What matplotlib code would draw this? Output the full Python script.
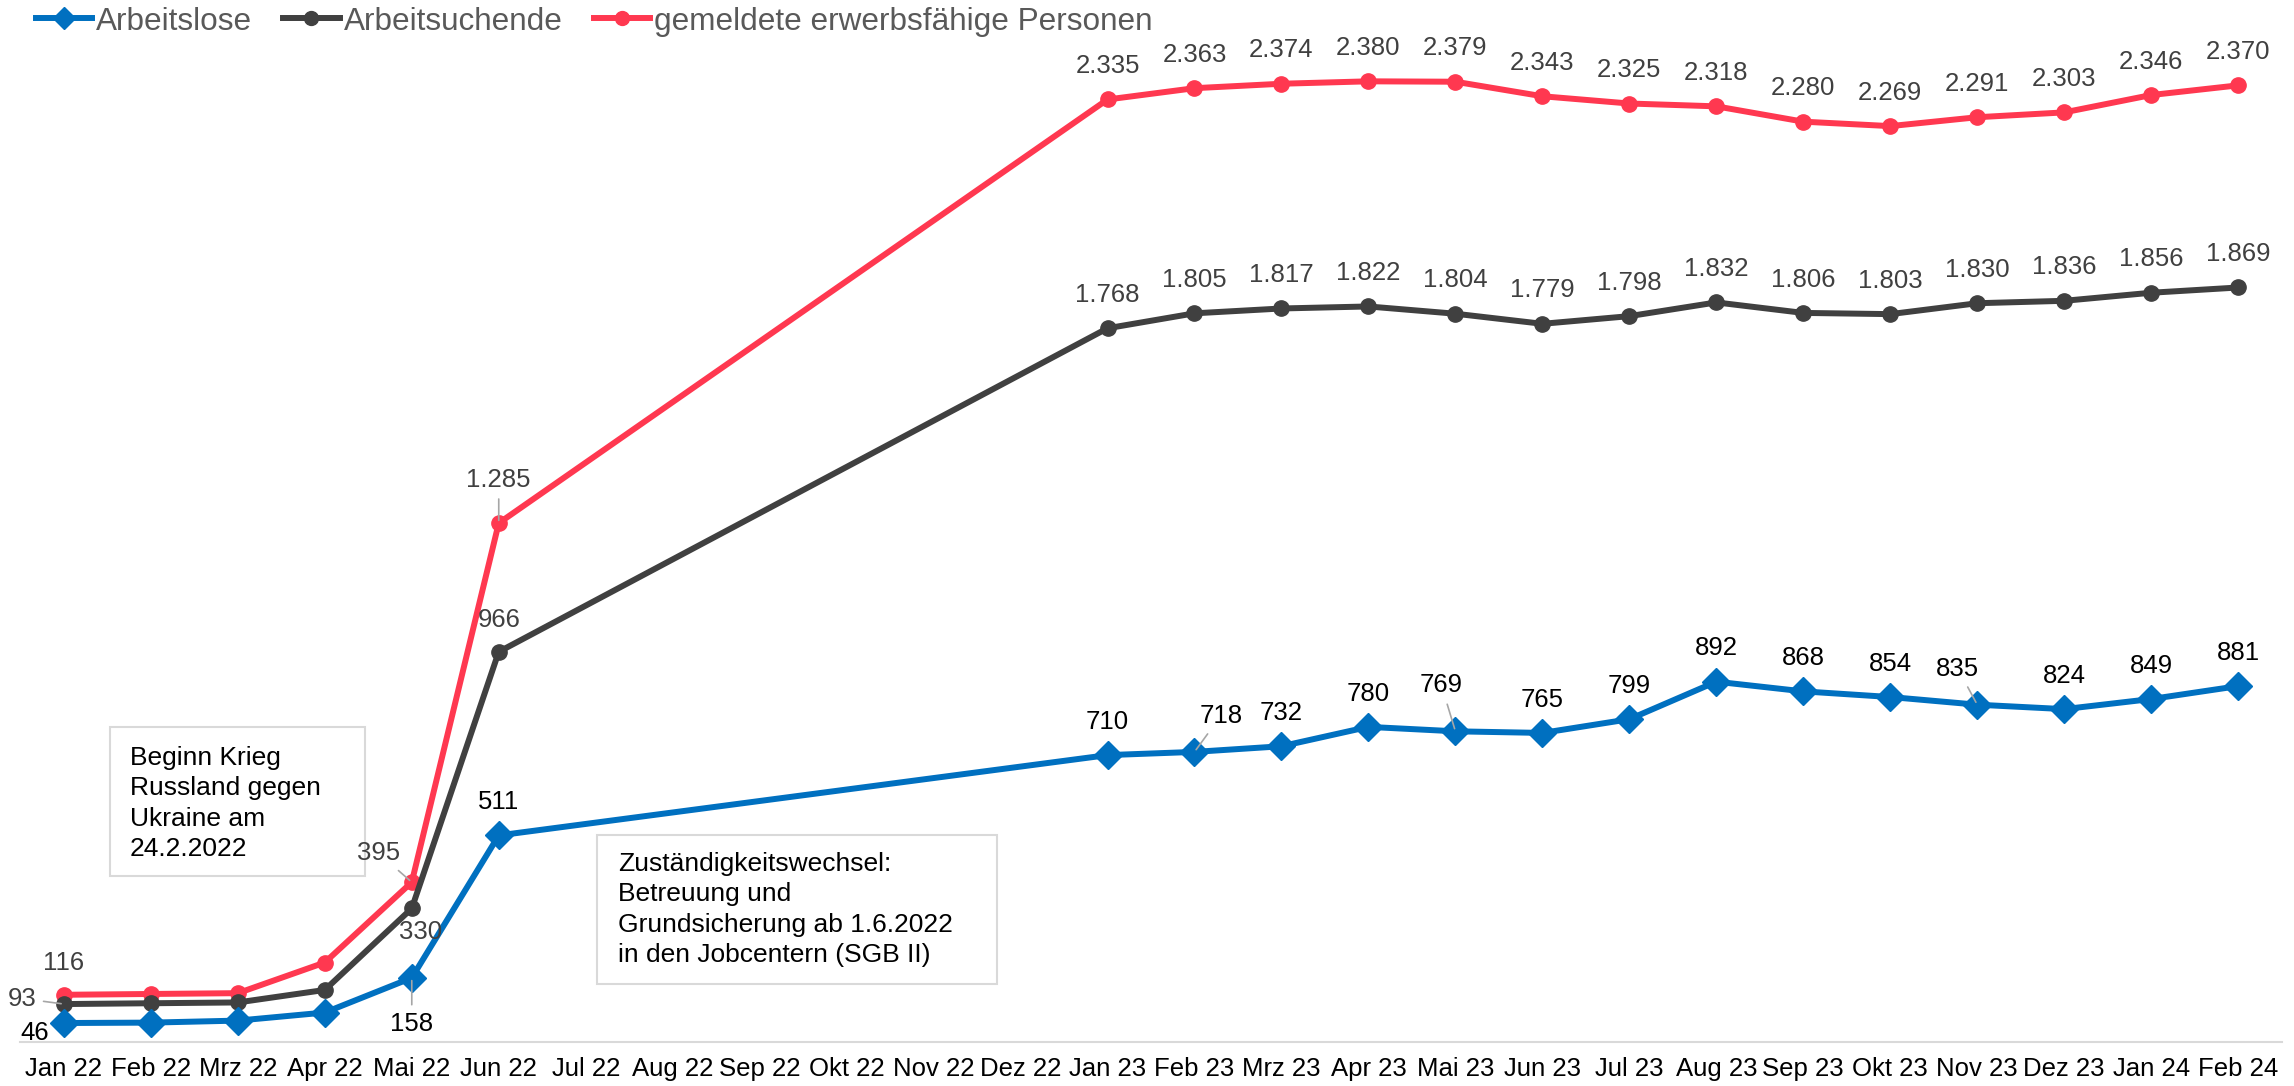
import matplotlib
matplotlib.use('Agg')
import matplotlib.pyplot as plt
from matplotlib.lines import Line2D
from matplotlib.patches import Rectangle
import numpy as np

plt.rcParams['font.family'] = ['Liberation Sans', 'DejaVu Sans']

# Kategorien (Monate)
monate = ['Jan 22', 'Feb 22', 'Mrz 22', 'Apr 22', 'Mai 22', 'Jun 22', 'Jul 22', 'Aug 22',
          'Sep 22', 'Okt 22', 'Nov 22', 'Dez 22', 'Jan 23', 'Feb 23', 'Mrz 23', 'Apr 23',
          'Mai 23', 'Jun 23', 'Jul 23', 'Aug 23', 'Sep 23', 'Okt 23', 'Nov 23', 'Dez 23',
          'Jan 24', 'Feb 24']

nan = np.nan
# Werte (Jul 22 - Dez 22 ohne Daten)
arbeitslose = [46, 47, 52, 72, 158, 511, nan, nan, nan, nan, nan, nan,
               710, 718, 732, 780, 769, 765, 799, 892, 868, 854, 835, 824, 849, 881]
arbeitsuchende = [93, 95, 97, 128, 330, 966, nan, nan, nan, nan, nan, nan,
                  1768, 1805, 1817, 1822, 1804, 1779, 1798, 1832, 1806, 1803, 1830, 1836, 1856, 1869]
erwerbsfaehige = [116, 118, 120, 196, 395, 1285, nan, nan, nan, nan, nan, nan,
                  2335, 2363, 2374, 2380, 2379, 2343, 2325, 2318, 2280, 2269, 2291, 2303, 2346, 2370]

legende = ['Arbeitslose', 'Arbeitsuchende', 'gemeldete erwerbsfähige Personen']

# welche Punkte eine Beschriftung tragen
beschriftet = [0, 4, 5] + list(range(12, 26))

# Abweichende Label-Positionen (Punkte), sonst oberhalb
offs_rot = {0: (0, 23), 4: (-24, 21), 5: (0, 31)}
offs_grau = {0: (-30, 4), 4: (6, -17), 5: (0, 23)}
offs_blau = {0: (-21, -7), 4: (0, -33), 13: (19, 26), 16: (-10, 33), 22: (-14, 26)}
leader = {('r', 4), ('r', 5), ('g', 0), ('b', 4), ('b', 13), ('b', 16), ('b', 22)}

c_blau = '#0070C0'
c_grau = '#404040'
c_rot = '#FF3850'


def fmt(v):
    return '{:,}'.format(int(v)).replace(',', '.')


fig = plt.figure(figsize=(22.94, 10.86), dpi=100, facecolor='w')
ax = fig.add_axes([0.0089, 0.0409, 0.9857, 0.9288])

x = np.arange(len(monate))

serien = [
    ('r', erwerbsfaehige, c_rot, 'o', 11, offs_rot, c_grau),
    ('g', arbeitsuchende, c_grau, 'o', 11, offs_grau, c_grau),
    ('b', arbeitslose, c_blau, 'D', 14, offs_blau, 'black'),
]

for key, werte, farbe, mk, ms, offs, tfarbe in serien:
    y = np.array(werte, dtype=float)
    ok = ~np.isnan(y)
    ax.plot(x[ok], y[ok], color=farbe, lw=4.3, marker=mk, ms=ms, zorder=3)
    for i in beschriftet:
        dx, dy = offs.get(i, (0, 24))
        ap = None
        if (key, i) in leader:
            ap = dict(arrowstyle='-', color='#A6A6A6', lw=1.2, shrinkA=3, shrinkB=2)
        ax.annotate(fmt(y[i]), (x[i], y[i]), xytext=(dx, dy), textcoords='offset points',
                    ha='center', va='center', fontsize=18.5, color=tfarbe,
                    arrowprops=ap, zorder=7)

ax.set_xlim(-0.5, len(monate) - 0.5)
ax.set_ylim(0, 2500)
ax.set_xticks(x)
ax.set_xticklabels(monate, fontsize=18.5, color='black')
ax.tick_params(axis='x', length=0, pad=11)
ax.set_yticks([])
for s in ['top', 'right', 'left']:
    ax.spines[s].set_visible(False)
ax.spines['bottom'].set_color('#D9D9D9')
ax.spines['bottom'].set_linewidth(1.5)

# Textfelder
ax.add_patch(Rectangle((0.53, 410), 2.93, 370, facecolor='white', edgecolor='#D9D9D9',
                       lw=1.5, zorder=5))
ax.text(0.76, 733, 'Beginn Krieg\nRussland gegen\nUkraine am\n24.2.2022', fontsize=19,
        va='top', ha='left', linespacing=1.34, zorder=6)
ax.add_patch(Rectangle((6.13, 143), 4.60, 369, facecolor='white', edgecolor='#D9D9D9',
                       lw=1.5, zorder=5))
ax.text(6.37, 470, 'Zuständigkeitswechsel:\nBetreuung und\nGrundsicherung ab 1.6.2022\nin den Jobcentern (SGB II)',
        fontsize=19, va='top', ha='left', linespacing=1.34, zorder=6)

# Legende
handles = [Line2D([], [], color=c_blau, lw=4.3, marker='D', ms=11),
           Line2D([], [], color=c_grau, lw=4.3, marker='o', ms=10),
           Line2D([], [], color=c_rot, lw=4.3, marker='o', ms=10)]
fig.legend(handles, legende, loc='upper left', bbox_to_anchor=(0.0155, 0.994), ncol=3,
           frameon=False, fontsize=22.7, labelcolor='#595959', handlelength=1.78,
           handletextpad=0.13, columnspacing=1.0, borderpad=0, borderaxespad=0)

plt.savefig('out.png', dpi=100, facecolor='w')
